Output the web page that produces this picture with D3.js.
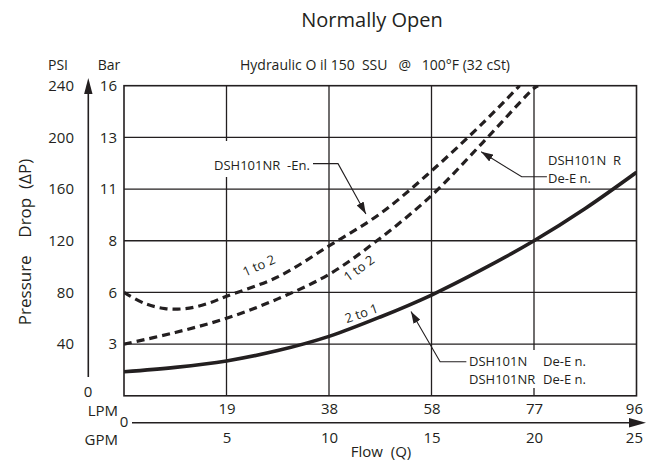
<!DOCTYPE html>
<html><head><meta charset="utf-8">
<script src="https://cdn.jsdelivr.net/npm/d3@7/dist/d3.min.js"></script>
<style>
body{margin:0;background:#fff;}
svg text{font-family:"Open Sans",sans-serif;fill:#231f20;white-space:pre;}
</style></head>
<body><svg id="c" width="657" height="463" xml:space="preserve"></svg>
<script>
// ---- data ----
const gpmTicks = [5, 10, 15, 20, 25];
const lpmLabels = ["19", "38", "58", "77", "96"];
const psiTicks = [40, 80, 120, 160, 200, 240];
const barLabels = ["3", "6", "8", "11", "13", "16"];

// solid: DSH101N / DSH101NR De-En. (2 to 1)
const solidGpm = [0, 2.5, 5, 7.5, 10, 12.5, 15, 17.5, 20, 22.5, 25];
const solidPsi = [18.6, 22, 27, 35, 46, 61, 78, 98, 120, 145, 173];
// upper dashed: DSH101NR -En. (1 to 2)
const upperGpm = [0, 1, 2, 3, 4, 5, 7.5, 10, 12.5, 15, 17.5, 19.3];
const upperPsi = [80, 71.5, 67.5, 67.5, 71, 77, 92, 116, 141, 174, 211, 240];
// lower dashed: DSH101N R De-En. (1 to 2)
const lowerGpm = [0, 2.5, 5, 7.5, 10, 12.5, 15, 17.5, 20, 20.2];
const lowerPsi = [40, 49, 60, 75, 94, 122, 155, 196, 238, 240];

const svg = d3.select("#c");
const x = d3.scaleLinear().domain([0, 25]).range([124, 636.5]);
const y = d3.scaleLinear().domain([0, 240]).range([395.8, 85.7]);
const ink = "#231f20";

// title
svg.append("text").attr("x", 372).attr("y", 27).attr("text-anchor", "middle")
  .style("font-size", "20px").text("Normally Open");
svg.append("text").attr("x", 375).attr("y", 70).attr("text-anchor", "middle")
  .style("font-size", "14px").text("Hydraulic O il 150  SSU   @   100°F (32 cSt)");

// grid
const g = svg.append("g");
g.selectAll(".hg").data(psiTicks.slice(0, -1)).join("line")
  .attr("x1", x(0)).attr("x2", x(25)).attr("y1", d => y(d)).attr("y2", d => y(d))
  .attr("stroke", ink).attr("stroke-width", 1.3);
g.selectAll(".vg").data(gpmTicks.slice(0, -1)).join("line")
  .attr("x1", d => x(d)).attr("x2", d => x(d)).attr("y1", y(0)).attr("y2", y(240))
  .attr("stroke", ink).attr("stroke-width", 1.3);
// white breaks behind labels
g.append("rect").attr("x", 210).attr("y", 141).attr("width", 106).attr("height", 36).attr("fill", "#fff");
g.append("rect").attr("x", 462).attr("y", 350).attr("width", 140).attr("height", 38).attr("fill", "#fff");
// frame
g.append("rect").attr("x", x(0)).attr("y", y(240)).attr("width", x(25) - x(0)).attr("height", y(0) - y(240))
  .attr("fill", "none").attr("stroke", ink).attr("stroke-width", 1.6);

// left axis labels (PSI and Bar) via d3 axes
const psiAxis = d3.axisLeft(y).tickValues(psiTicks).tickSize(0).tickPadding(0);
const ga = svg.append("g").attr("transform", "translate(74,0)").call(psiAxis);
const barAxis = d3.axisLeft(y).tickValues(psiTicks).tickSize(0).tickPadding(0)
  .tickFormat((d, i) => barLabels[i]);
const gb = svg.append("g").attr("transform", "translate(117,0)").call(barAxis);
[ga, gb].forEach(a => {
  a.select(".domain").remove();
  a.selectAll("text").style("font-size", "15px").style("font-family", '"Open Sans",sans-serif').attr("fill", ink);
});
svg.append("text").attr("x", 58).attr("y", 70).attr("text-anchor", "middle").style("font-size", "14px").text("PSI");
svg.append("text").attr("x", 109).attr("y", 70).attr("text-anchor", "middle").style("font-size", "14px").text("Bar");
svg.append("text").attr("x", 88).attr("y", 397).attr("text-anchor", "middle").style("font-size", "15px").text("0");

// vertical arrow
svg.append("line").attr("x1", 88.3).attr("x2", 88.3).attr("y1", 377).attr("y2", 90)
  .attr("stroke", ink).attr("stroke-width", 1.6);
svg.append("path").attr("d", "M88.3,78 L92.5,94 L84.1,94 Z").attr("fill", ink);

// y title
svg.append("text").attr("transform", "translate(31,242) rotate(-90)").attr("text-anchor", "middle")
  .style("font-size", "17px").text("Pressure    Drop  (ΔP)");

// bottom axes
const lpmAxis = d3.axisBottom(x).tickValues(gpmTicks).tickSize(0).tickPadding(0)
  .tickFormat((d, i) => lpmLabels[i]);
const gl = svg.append("g").attr("transform", "translate(0,403)").call(lpmAxis);
const gpmAxis = d3.axisBottom(x).tickValues(gpmTicks).tickSize(0).tickPadding(0);
const gg = svg.append("g").attr("transform", "translate(0,432)").call(gpmAxis);
[gl, gg].forEach(a => {
  a.select(".domain").remove();
  a.selectAll("text").style("font-size", "15px").style("font-family", '"Open Sans",sans-serif').attr("fill", ink);
});
gl.selectAll(".tick:last-child text").attr("text-anchor", "end").attr("dx", "6");
gg.selectAll(".tick:last-child text").attr("text-anchor", "end").attr("dx", "6");
svg.append("text").attr("x", 118).attr("y", 416).attr("text-anchor", "end").style("font-size", "15px").text("LPM");
svg.append("text").attr("x", 118).attr("y", 445).attr("text-anchor", "end").style("font-size", "15px").text("GPM");
svg.append("text").attr("x", 124).attr("y", 427).attr("text-anchor", "middle").style("font-size", "15px").text("0");
svg.append("line").attr("x1", 132).attr("x2", 632).attr("y1", 422.7).attr("y2", 422.7)
  .attr("stroke", ink).attr("stroke-width", 1.6);
svg.append("path").attr("d", "M646,422.7 L629,418 L629,427.4 Z").attr("fill", ink);
svg.append("text").attr("x", 381).attr("y", 457).attr("text-anchor", "middle").style("font-size", "15px").text("Flow  (Q)");

// curves
svg.append("clipPath").attr("id", "clip").append("rect")
  .attr("x", x(0)).attr("y", y(240)).attr("width", x(25) - x(0)).attr("height", y(0) - y(240));
const line = d3.line().x(d => x(d[0])).y(d => y(d[1])).curve(d3.curveCatmullRom.alpha(0.5));
const cg = svg.append("g").attr("clip-path", "url(#clip)");
cg.append("path").attr("d", line(d3.zip(solidGpm, solidPsi))).attr("fill", "none")
  .attr("stroke", ink).attr("stroke-width", 3.6);
cg.append("path").attr("d", line(d3.zip(upperGpm, upperPsi))).attr("fill", "none")
  .attr("stroke", ink).attr("stroke-width", 3.2).attr("stroke-dasharray", "8,5");
cg.append("path").attr("d", line(d3.zip(lowerGpm, lowerPsi))).attr("fill", "none")
  .attr("stroke", ink).attr("stroke-width", 3.2).attr("stroke-dasharray", "8,5");

// curve labels
function lab(t, gx, gp, ang) {
  svg.append("text").attr("transform", `translate(${x(gx)},${y(gp)}) rotate(${ang})`)
    .attr("text-anchor", "middle").attr("dominant-baseline", "middle").style("font-size", "13px").text(t);
}
lab("1 to 2", 6.6, 100, -24);
lab("1 to 2", 11.5, 98, -36);
lab("2 to 1", 11.6, 63, -19);

// annotations
const defs = svg.append("defs");
defs.append("marker").attr("id", "ah").attr("viewBox", "0 0 12 8").attr("refX", 12).attr("refY", 4)
  .attr("markerWidth", 12).attr("markerHeight", 8).attr("markerUnits", "userSpaceOnUse").attr("orient", "auto")
  .append("path").attr("d", "M0,0 L12,4 L0,8 Z").attr("fill", ink);
function leader(pts) {
  svg.append("path").attr("d", d3.line()(pts.map(p => [x(p[0]), y(p[1])])))
    .attr("fill", "none").attr("stroke", ink).attr("stroke-width", 1.1).attr("marker-end", "url(#ah)");
}
leader([[9.22, 179.7], [10.44, 179.7], [11.8, 140.7]]);
leader([[20.63, 169.5], [19.4, 169.5], [17.42, 188.9]]);
leader([[16.7, 26.4], [15.42, 26.4], [14.0, 65.3]]);

function txt(t, px, py) {
  svg.append("text").attr("x", px).attr("y", py).style("font-size", "13px").text(t);
}
txt("DSH101NR  -En.", 214, 170);
txt("DSH101N  R", 548, 165);
txt("De-E n.", 548, 183);
txt("DSH101N", 469, 366);
txt("De-E n.", 543, 366);
txt("DSH101NR", 469, 384);
txt("De-E n.", 543, 384);
</script></body></html>
